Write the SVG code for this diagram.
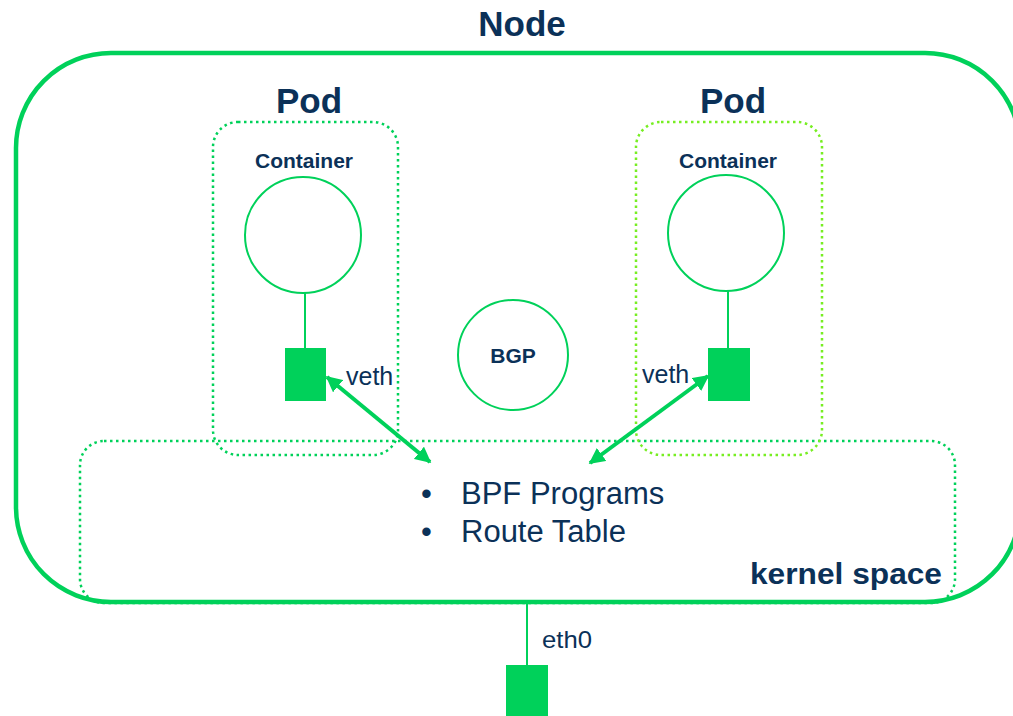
<svg xmlns="http://www.w3.org/2000/svg" width="1013" height="716" viewBox="0 0 1013 716">
<style>
.t{font-family:"Liberation Sans",Arial,sans-serif;fill:#0b3158}
.b{font-weight:bold}
.solid{fill:none;stroke:#00d15a}
.dot{fill:none;stroke-width:2.5;stroke-dasharray:2.5 3.5}
.sq{fill:#00d15a}
</style>
<defs>
<marker id="ah" viewBox="0 0 10 10" refX="9" refY="5" markerWidth="4" markerHeight="4" orient="auto-start-reverse" markerUnits="strokeWidth">
<path d="M0,0 L10,5 L0,10 z" fill="#00d15a"/>
</marker>
</defs>
<rect width="1013" height="716" fill="#fff"/>
<g id="node">
<rect class="solid" x="16" y="53" width="1004" height="549" rx="95" stroke-width="4.5"/>
<text class="t b" x="522" y="36" font-size="35" text-anchor="middle">Node</text>
</g>
<g id="kernel">
<rect class="dot" x="80" y="441" width="875" height="162" rx="24" stroke="#00d15a"/>
<text class="t" x="421" y="504" font-size="31">•</text>
<text class="t" x="461" y="504" font-size="31">BPF Programs</text>
<text class="t" x="421" y="542" font-size="31">•</text>
<text class="t" x="461" y="542" font-size="31">Route Table</text>
<text class="t b" x="942" y="584" font-size="30" text-anchor="end" textLength="192" lengthAdjust="spacingAndGlyphs">kernel space</text>
</g>
<g id="pod1">
<rect class="dot" x="213" y="122" width="185" height="333" rx="25" stroke="#00d15a"/>
<text class="t b" x="309" y="113" font-size="35" text-anchor="middle">Pod</text>
<text class="t b" x="304" y="168" font-size="21" text-anchor="middle">Container</text>
<circle class="solid" cx="303" cy="235" r="58" stroke-width="2"/>
<line class="solid" x1="305" y1="293" x2="305" y2="349" stroke-width="2"/>
<rect class="sq" x="285" y="348" width="41" height="53"/>
<text class="t" x="346" y="385" font-size="25">veth</text>
</g>
<g id="pod2">
<rect class="dot" x="636" y="122" width="186" height="333" rx="25" stroke="#77ee22"/>
<text class="t b" x="733" y="113" font-size="35" text-anchor="middle">Pod</text>
<text class="t b" x="728" y="168" font-size="21" text-anchor="middle">Container</text>
<circle class="solid" cx="726" cy="233" r="58" stroke-width="2"/>
<line class="solid" x1="728" y1="291" x2="728" y2="349" stroke-width="2"/>
<rect class="sq" x="708" y="348" width="42" height="53"/>
<text class="t" x="642" y="383" font-size="25">veth</text>
</g>
<g id="bgp">
<circle class="solid" cx="513" cy="355" r="55" stroke-width="2"/>
<text class="t b" x="513" y="363" font-size="21" text-anchor="middle">BGP</text>
</g>
<g id="eth0">
<rect class="sq" x="506" y="665" width="42" height="51"/>
<text class="t" x="542" y="648" font-size="24" textLength="50" lengthAdjust="spacingAndGlyphs">eth0</text>
</g>
<g id="connectors">
<line class="solid" x1="327" y1="377" x2="430" y2="462" stroke-width="4" marker-start="url(#ah)" marker-end="url(#ah)"/>
<line class="solid" x1="708" y1="376" x2="590" y2="463" stroke-width="4" marker-start="url(#ah)" marker-end="url(#ah)"/>
<line class="solid" x1="527" y1="604" x2="527" y2="665" stroke-width="2"/>
</g>
</svg>
